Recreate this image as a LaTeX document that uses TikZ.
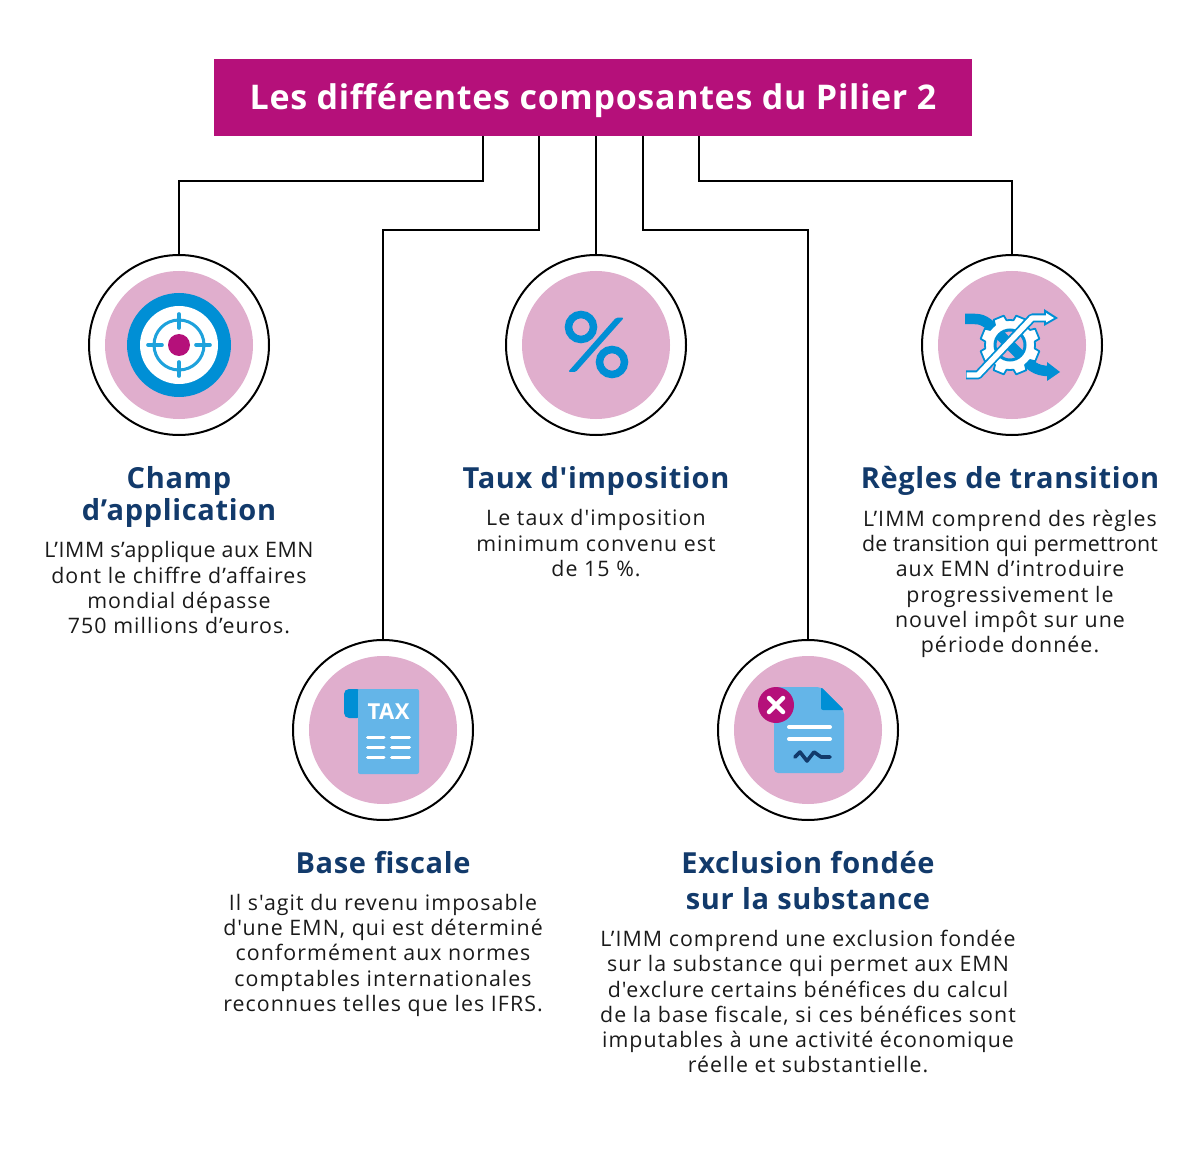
\documentclass[tikz,border=0pt]{standalone}
\usepackage{fontspec}
\usetikzlibrary{positioning}

\newfontfamily\bodyfont[LetterSpace=5]{Open Sans}
\newfontfamily\midfont[LetterSpace=2.7]{Open Sans}
\newfontfamily\tightfont[LetterSpace=0.9]{Open Sans}
\newfontfamily\headfont[LetterSpace=2.3]{Open Sans}
\newfontfamily\titlefont[LetterSpace=2]{Open Sans}

\definecolor{titlepink}{HTML}{B5107A}
\definecolor{softpink}{HTML}{E0AECD}
\definecolor{iconblue}{HTML}{008FD5}
\definecolor{ringblue}{HTML}{1EA2DC}
\definecolor{lightblue}{HTML}{64B5E8}
\definecolor{navy}{HTML}{123A6B}
\definecolor{bodyblack}{HTML}{1A1A1A}

\begin{document}
\begin{tikzpicture}[x=1pt,y=1pt]

\tikzset{
    myline/.style={line width=1.6pt, black},
    titlebox/.style={fill=titlepink, text=white, minimum width=758, minimum height=77, inner sep=0pt, text height=31pt, text depth=7pt, font=\titlefont\bfseries\fontsize{34}{40}\selectfont},
    ringnode/.style={draw=black, circle, line width=2pt, fill=white, minimum size=180, inner sep=0pt},
    discnode/.style={circle, fill=softpink, minimum size=148, inner sep=0pt},
    headtext/.style={align=center, text=navy, inner sep=0pt, font=\headfont\bfseries\fontsize{29}{#1}\selectfont},
    headtext/.default=32,
    bodytext/.style={align=center, text=bodyblack, inner sep=0pt, font=\bodyfont\fontsize{21.35}{25.3}\selectfont},
    whitebar/.style={white, line cap=round},
    gearpath/.style={fill=white, draw=iconblue, line width=1.8pt, line join=round}
}

\path[use as bounding box, fill=white] (0,0) rectangle (1200,-1150);

%title
\node[titlebox] (title) at (593,-97.5) {Les différentes composantes du Pilier 2};

%circles
\node[ringnode] (champ) at (179,-345) {};
\node[discnode] (champdisc) at (champ) {};
\node[ringnode] (taux) at (596,-345) {};
\node[discnode] (tauxdisc) at (taux) {};
\node[ringnode] (regles) at (1012,-345) {};
\node[discnode] (reglesdisc) at (regles) {};
\node[ringnode] (base) at (383,-730) {};
\node[discnode] (basedisc) at (base) {};
\node[ringnode] (exclu) at (808,-730) {};
\node[discnode] (excludisc) at (exclu) {};

%connectors
\draw[myline] ([xshift=-110pt]title.south) -- ++(0,-45) -| (champ.north);
\draw[myline] ([xshift=-54pt]title.south) -- ++(0,-94) -| (base.north);
\draw[myline] (taux.north |- title.south) -- (taux.north);
\draw[myline] ([xshift=50pt]title.south) -- ++(0,-94) -| (exclu.north);
\draw[myline] ([xshift=106pt]title.south) -- ++(0,-45) -| (regles.north);

%champ text
\node[headtext, below=30pt of champ.south] (champhead) {Champ\\d’application};
\node[bodytext, below=14pt of champhead] (champbody) {{\midfont L’IMM s’applique aux EMN}\\dont le chiffre d’affaires\\mondial dépasse\\750 millions d’euros.};

%taux text
\node[headtext, below=30pt of taux.south] (tauxhead) {Taux d'imposition};
\node[bodytext, below=14pt of tauxhead] (tauxbody) {Le taux d'imposition\\minimum convenu est\\de 15 \%.};

%regles text
\node[headtext, below=30pt of regles.south, xshift=-2pt] (regleshead) {Règles de transition};
\node[bodytext, below=14pt of regleshead] (reglesbody) {L’IMM comprend des règles\\{\tightfont de transition qui permettront}\\aux EMN d’introduire\\progressivement le\\nouvel impôt sur une\\période donnée.};

%base text
\node[headtext, below=30pt of base.south] (basehead) {Base fiscale};
\node[bodytext, below=20pt of basehead] (basebody) {Il s'agit du revenu imposable\\d'une EMN, qui est déterminé\\conformément aux normes\\comptables internationales\\reconnues telles que les IFRS.};

%exclusion text
\node[headtext=36, below=30pt of exclu.south] (excluhead) {Exclusion fondée\\sur la substance};
\node[bodytext, below=20pt of excluhead] (exclubody) {L’IMM comprend une exclusion fondée\\sur la substance qui permet aux EMN\\d'exclure certains bénéfices du calcul\\de la base fiscale, si ces bénéfices sont\\imputables à une activité économique\\réelle et substantielle.};

%target icon
\fill[iconblue] (champ) circle (52);
\fill[white] (champ) circle (39);
\draw[ringblue, line width=3pt] (champ) circle (25);
\foreach \a in {0,90,180,270}
    \draw[ringblue, line width=3.6pt, line cap=round, shift={(champ)}] (\a:17) -- (\a:31);
\fill[titlepink] (champ) circle (11);

%percent icon
\draw[iconblue, line width=7.5pt] (581,-327) circle (12.5);
\draw[iconblue, line width=7.5pt] (612,-362) circle (12.5);
\fill[iconblue, rounded corners=1.5pt] (616,-317.7) -- (624,-317.7) -- (575.7,-372) -- (568,-372) -- cycle;

%transition icon
\draw[iconblue, line width=10.5pt] (965,-319) -- (975,-319) .. controls (985,-319) and (990,-325) .. (1000,-335) -- (1020,-355) .. controls (1030,-365) and (1035,-371) .. (1049,-371);
\fill[iconblue] (1047,-362) -- (1060,-372) -- (1047,-381) -- cycle;
\begin{scope}[shift={(1010,-345)}]
\draw[gearpath] (0:25) \foreach \a in {0,45,...,315} {
    -- (\a+8:25) -- (\a+12:30) -- (\a+33:30) -- (\a+37:25) -- (\a+45:25)} -- cycle;
\fill[softpink] (0,0) circle (15);
\draw[iconblue, line width=3pt] (0,0) circle (15);
\end{scope}
\begin{scope}
\clip (1010,-345) circle (15);
\draw[iconblue, line width=10.5pt] (990,-325) -- (1030,-365);
\end{scope}
\draw[iconblue, line width=9pt, line join=round] (966,-375) -- (978,-375) -- (1032,-318) -- (1049,-318);
\fill[iconblue] (1044,-309) -- (1058,-318) -- (1044,-326) -- cycle;
\draw[white, line width=5.4pt, line join=round] (966.5,-375) -- (978,-375) -- (1032,-318) -- (1048,-318);
\fill[white] (1046,-313) -- (1054,-318) -- (1046,-322.5) -- cycle;

%tax icon
\fill[iconblue, rounded corners=5pt] (344,-718) rectangle (362,-689);
\fill[lightblue, rounded corners=2pt] (358,-689) rectangle (419,-774);
\node[text=white, inner sep=0pt, font=\titlefont\bfseries\fontsize{22}{22}\selectfont] (taxlabel) at (388.5,-712) {TAX};
\foreach \y in {-737,-747,-757} {
    \draw[whitebar, line width=3pt] (367.5,\y) -- (384,\y);
    \draw[whitebar, line width=3pt] (391.5,\y) -- (409.5,\y);
}

%exclusion icon
\fill[lightblue, rounded corners=4pt] (774,-687) -- (821,-687) -- (844,-710) -- (844,-773) -- (774,-773) -- cycle;
\fill[iconblue, rounded corners=2pt] (821,-687) -- (844,-710) -- (821,-710) -- cycle;
\draw[whitebar, line width=4pt] (789,-727) -- (830,-727);
\draw[whitebar, line width=4pt] (789,-739) -- (830,-739);
\draw[navy, line width=3.6pt, line cap=round, line join=round] (795,-757) -- (800,-752) -- (807,-761) -- (814,-752) -- (821,-757) -- (830,-757);
\fill[titlepink] (776,-705) circle (18);
\draw[whitebar, line width=4.5pt] (769,-698) -- (783,-712);
\draw[whitebar, line width=4.5pt] (769,-712) -- (783,-698);

\end{tikzpicture}
\end{document}
